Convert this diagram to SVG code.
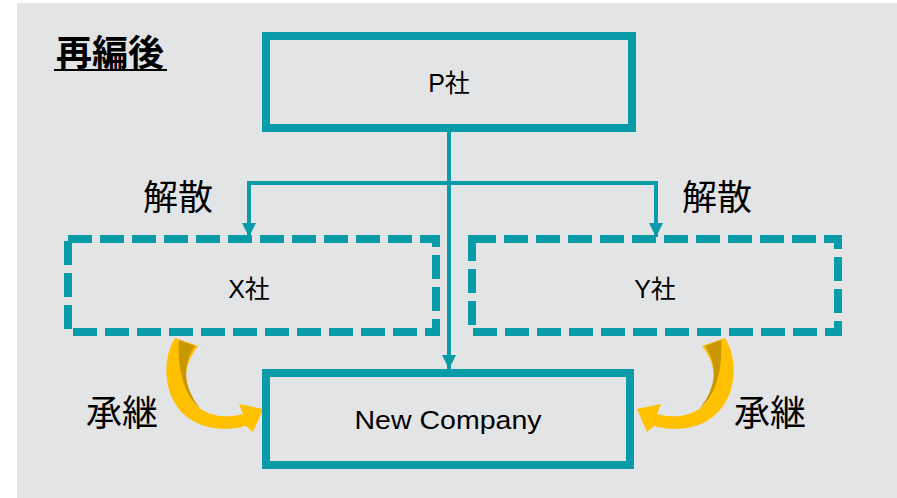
<svg xmlns="http://www.w3.org/2000/svg" width="897" height="498" viewBox="0 0 897 498">
<defs>
<style>
.box{fill:none;stroke:#0A9BA8;stroke-width:8}
.dash{fill:none;stroke:#0A9BA8;stroke-width:8;stroke-dasharray:24 8}
.line{fill:none;stroke:#0A9BA8;stroke-width:4}
.lbl{font-family:"Liberation Sans","Noto Sans CJK JP",sans-serif;font-size:25px;fill:#000;text-anchor:middle}
.jp{font-family:"Noto Sans CJK JP",sans-serif;fill:#000;text-anchor:middle}
.gold{fill:#FFC000}
.dark{fill:#C99700}
</style>
<marker id="ah" viewBox="0 0 14 14" refX="14" refY="7" markerWidth="14" markerHeight="14" markerUnits="userSpaceOnUse" orient="auto">
<path d="M0,0 L14,7 L0,14 Z" fill="#0A9BA8"/>
</marker>
<g id="curl">
<path class="gold" d="M175,338 C160,362 164,402 190,419 C207,430 226,431 246,426 L253,432 L263,409 L239,404 L243,414 C226,419 207,416 196,405 C182,390 182,366 198,346 Z"/>
<path class="dark" d="M179,340 L195,346 C183,363 182,386 200,408 C184,396 177,368 179,340 Z"/>
</g>
</defs>
<rect x="17" y="3" width="880" height="495" fill="#E3E4E6"/>
<g id="title">
<text x="110" y="66" class="jp" font-size="36" font-weight="bold">再編後</text>
<line x1="54" y1="70" x2="167" y2="70" stroke="#000" stroke-width="2"/>
</g>
<g id="connectors">
<line class="line" x1="449" y1="132" x2="449" y2="369" marker-end="url(#ah)"/>
<polyline class="line" points="249,183 656,183"/>
<line class="line" x1="249" y1="181" x2="249" y2="237" marker-end="url(#ah)"/>
<line class="line" x1="656" y1="181" x2="656" y2="237" marker-end="url(#ah)"/>
<use href="#curl"/>
<use href="#curl" transform="translate(900,0) scale(-1,1)"/>
</g>
<g id="P">
<rect class="box" x="266" y="36" width="366" height="92"/>
<text class="lbl" x="449" y="92">P社</text>
</g>
<g id="X">
<rect class="dash" x="68" y="239" width="368" height="93"/>
<text class="lbl" x="249" y="298">X社</text>
</g>
<g id="Y">
<rect class="dash" x="472" y="239" width="366" height="93"/>
<text class="lbl" x="655" y="298">Y社</text>
</g>
<g id="NewCompany">
<rect class="box" x="266" y="373" width="364" height="92"/>
<text class="lbl" x="448" y="429" font-size="27" textLength="187" lengthAdjust="spacingAndGlyphs">New Company</text>
</g>
<g id="labels">
<text class="jp" x="178" y="210" font-size="35">解散</text>
<text class="jp" x="717" y="210" font-size="35">解散</text>
<text class="jp" x="122" y="426" font-size="36">承継</text>
<text class="jp" x="770" y="426" font-size="36">承継</text>
</g>
</svg>
